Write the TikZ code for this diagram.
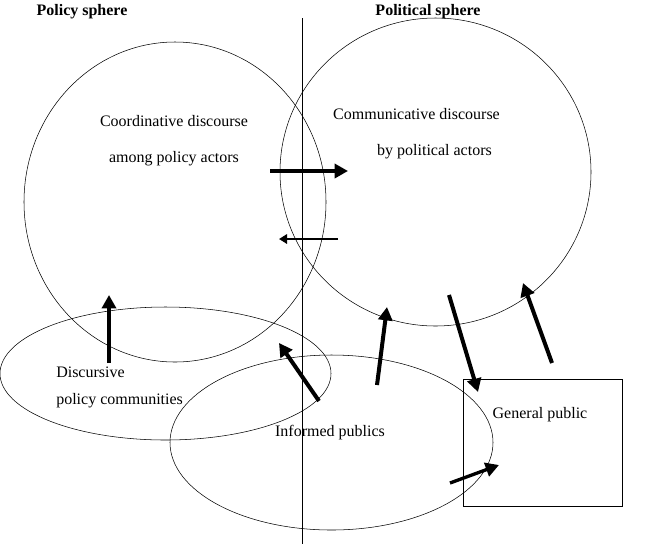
\documentclass[tikz,border=0pt]{standalone}
\usepackage{fontspec}
\setmainfont{Liberation Serif}
\usepackage{tikz}
\usetikzlibrary{arrows.meta}

\tikzset{
  lbl/.style={inner sep=0pt, anchor=base, font=\fontsize{12}{14}\selectfont},
  head/.style={inner sep=0pt, anchor=base, font=\fontsize{12}{14}\selectfont\bfseries},
  fat/.style={line width=3pt, -{Triangle[length=10pt,width=10.5pt]}},
  slim/.style={line width=1.5pt, -{Triangle[length=6pt,width=7pt]}}
}

\begin{document}
\begin{tikzpicture}[x=0.75pt,y=-0.75pt]
\useasboundingbox (0,0) rectangle (649,544);
% spheres
\draw (175,202) ellipse (151 and 160);
\draw (435.5,172) ellipse (155.5 and 154);
\draw (165.5,373.5) ellipse (165.5 and 66.5);
\draw (331.5,442.5) ellipse (161.5 and 87.5);
\draw (463,379) rectangle (622,506);
\draw (302,18) -- (302,544);
% labels
\node[head] (policy) at (82,15) {Policy sphere};
\node[head] (political) at (428,15) {Political sphere};
\node[lbl] (coord1) at (174,126) {Coordinative discourse};
\node[lbl] (coord2) at (174,162) {among policy actors};
\node[lbl] (comm1) at (416.5,119) {Communicative discourse};
\node[lbl] (comm2) at (434.5,155) {by political actors};
\node[lbl,anchor=base west] (disc1) at (56,377) {Discursive};
\node[lbl,anchor=base west] (disc2) at (56,404) {policy communities};
\node[lbl] (informed) at (330,436) {Informed publics};
\node[lbl] (general) at (540,418) {General public};
% arrow ends
\coordinate (a1) at (270,171);  \coordinate (b1) at (348,171);
\coordinate (a2) at (338,239);  \coordinate (b2) at (279,239);
\coordinate (a3) at (109,363);  \coordinate (b3) at (109,295);
\coordinate (a4) at (319,401);  \coordinate (b4) at (279,343);
\coordinate (a5) at (377,385);  \coordinate (b5) at (387,307);
\coordinate (a6) at (449,295);  \coordinate (b6) at (478,392);
\coordinate (a7) at (552,363);  \coordinate (b7) at (523,283);
\coordinate (a8) at (450,483);  \coordinate (b8) at (499,465);
\draw[fat] (a1) -- (b1);
\draw[slim] (a2) -- (b2);
\draw[fat] (a3) -- (b3);
\draw[fat] (a4) -- (b4);
\draw[fat] (a5) -- (b5);
\draw[fat] (a6) -- (b6);
\draw[fat] (a7) -- (b7);
\draw[fat,line width=2.5pt] (a8) -- (b8);
\end{tikzpicture}
\end{document}
